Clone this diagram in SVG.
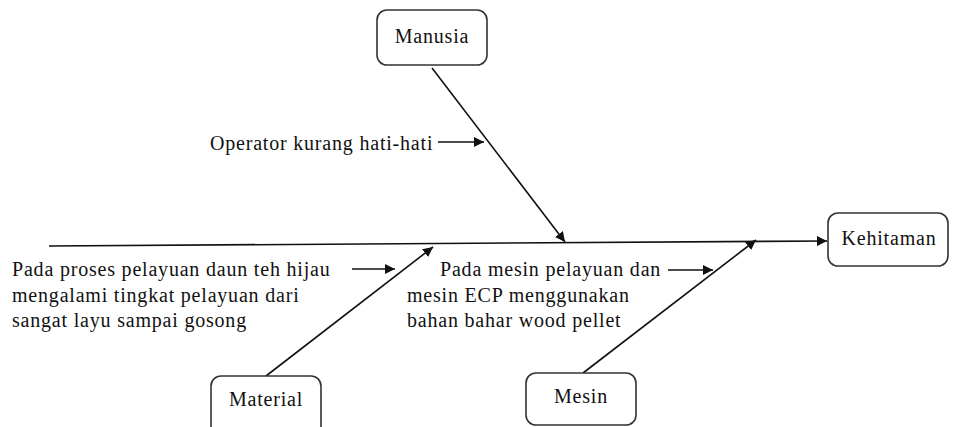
<svg xmlns="http://www.w3.org/2000/svg" width="954" height="427" viewBox="0 0 954 427">
<style>
.box{fill:#fff;stroke:#333;stroke-width:1.6}
.t{font-family:"Liberation Serif",serif;font-size:20px;letter-spacing:0.8px;fill:#111}
.l{stroke:#111;stroke-width:1.6;fill:none}
</style>
<defs>
<marker id="ah" viewBox="0 0 10 10" refX="10" refY="5" markerWidth="10" markerHeight="10" markerUnits="userSpaceOnUse" orient="auto">
<path d="M0,0 L10,5 L0,10 z" fill="#111"/>
</marker>
</defs>
<rect width="954" height="427" fill="#fff"/>
<g id="connectors">
<line class="l" x1="49" y1="246" x2="827" y2="241" marker-end="url(#ah)"/>
<line class="l" x1="432" y1="68" x2="565" y2="242" marker-end="url(#ah)"/>
<line class="l" x1="266" y1="376" x2="433" y2="247" marker-end="url(#ah)"/>
<line class="l" x1="583" y1="373" x2="756" y2="240" marker-end="url(#ah)"/>
<line class="l" x1="438" y1="142" x2="484" y2="142" marker-end="url(#ah)"/>
<line class="l" x1="352" y1="269" x2="395" y2="269" marker-end="url(#ah)"/>
<line class="l" x1="668" y1="270" x2="713" y2="270" marker-end="url(#ah)"/>
</g>
<g id="manusia">
<rect class="box" x="377" y="10" width="110" height="55" rx="10"/>
<text class="t" x="432" y="43" text-anchor="middle">Manusia</text>
</g>
<g id="kehitaman">
<rect class="box" x="828" y="213" width="120" height="53" rx="10"/>
<text class="t" x="889" y="245" text-anchor="middle">Kehitaman</text>
</g>
<g id="material">
<rect class="box" x="211" y="376" width="110" height="60" rx="10"/>
<text class="t" x="266" y="406" text-anchor="middle">Material</text>
</g>
<g id="mesin">
<rect class="box" x="526" y="373" width="110" height="52" rx="10"/>
<text class="t" x="581" y="403" text-anchor="middle">Mesin</text>
</g>
<g id="labels">
<text class="t" x="210" y="150">Operator kurang hati-hati</text>
<text class="t" x="12" y="276">Pada proses pelayuan daun teh hijau</text>
<text class="t" x="12" y="302">mengalami tingkat pelayuan dari</text>
<text class="t" x="12" y="327">sangat layu sampai gosong</text>
<text class="t" x="440" y="276">Pada mesin pelayuan dan</text>
<text class="t" x="407" y="302">mesin ECP menggunakan</text>
<text class="t" x="407" y="327">bahan bahar wood pellet</text>
</g>
</svg>
